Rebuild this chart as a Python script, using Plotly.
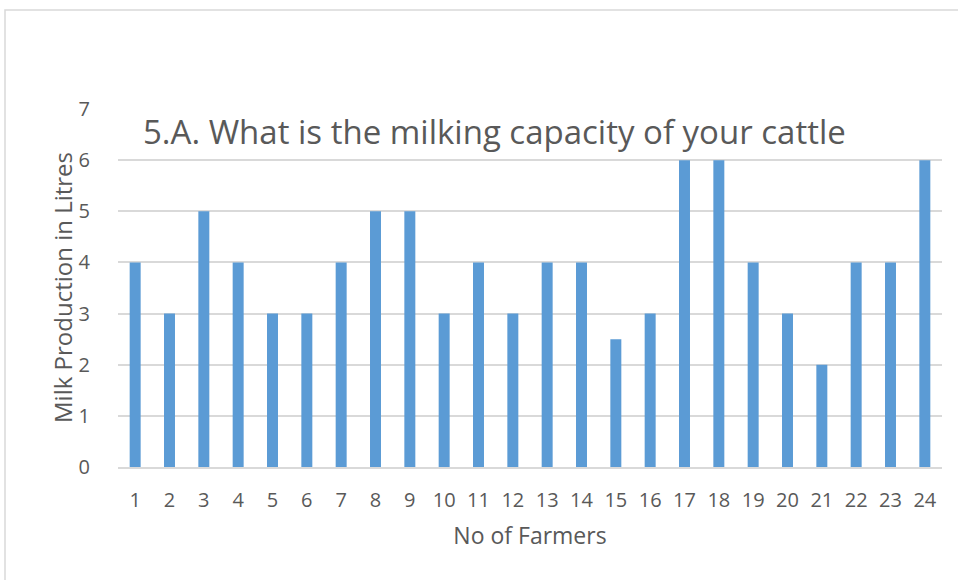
import plotly.graph_objects as go

# Milking capacity reported by each farmer
farmers = [str(i) for i in range(1, 25)]
litres = [4, 3, 5, 4, 3, 3, 4, 5, 5, 3, 4, 3, 4, 4, 2.5, 3, 6, 6, 4, 3, 2, 4, 4, 6]
y_ticks = [0, 1, 2, 3, 4, 5, 6, 7]

W, H = 958, 580
L, R, T, B = 118, 16, 109, 113
pw, ph = W - L - R, H - T - B

def px_x(x):
    return (x - L) / pw

def px_y(y):
    return (H - B - y) / ph

font_family = "Open Sans, Liberation Sans, sans-serif"
grey = "#595959"

fig = go.Figure(
    go.Bar(
        x=farmers,
        y=litres,
        marker=dict(color="#5B9BD5", line=dict(width=0)),
    )
)

fig.update_layout(
    width=W,
    height=H,
    margin=dict(l=L, r=R, t=T, b=B),
    paper_bgcolor="white",
    plot_bgcolor="white",
    bargap=0.68,
    showlegend=False,
    font=dict(family=font_family, color=grey),
    xaxis=dict(
        type="category",
        tickfont=dict(size=20, color=grey),
        showgrid=False,
        showline=True,
        linecolor="#D9D9D9",
        linewidth=1.5,
        ticks="",
        ticklabelstandoff=14,
        title=dict(text="No of Farmers", font=dict(size=23, color=grey), standoff=16),
    ),
    yaxis=dict(
        range=[0, 7],
        tickvals=y_ticks,
        tickfont=dict(size=20, color=grey),
        showgrid=True,
        gridcolor="#D9D9D9",
        gridwidth=1.5,
        zeroline=False,
        ticks="",
        ticklabelstandoff=27,
    ),
    annotations=[
        dict(
            text="5.A. What is the milking capacity of your cattle",
            xref="paper", yref="paper",
            x=px_x(141), y=px_y(131),
            xanchor="left", yanchor="middle",
            showarrow=False,
            font=dict(size=33, color=grey, family=font_family),
        ),
        dict(
            text="Milk Production in Litres",
            xref="paper", yref="paper",
            x=px_x(62), y=px_y(288),
            xanchor="center", yanchor="middle",
            textangle=-90,
            showarrow=False,
            font=dict(size=24, color=grey, family=font_family),
        ),
    ],
    shapes=[
        dict(
            type="rect", xref="paper", yref="paper",
            x0=px_x(5), x1=px_x(W + 5), y0=px_y(H + 5), y1=px_y(10),
            line=dict(color="#D9D9D9", width=1.5),
            fillcolor="rgba(0,0,0,0)",
            layer="below",
        )
    ],
)

fig.write_html("out.html")
